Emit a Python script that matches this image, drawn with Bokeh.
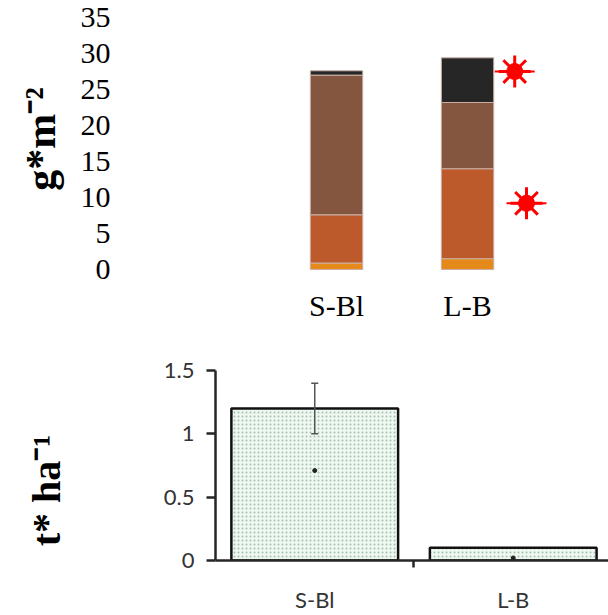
import numpy as np
from bokeh.plotting import figure
from bokeh.models import ColumnDataSource, Range1d, FixedTicker, Whisker, TeeHead
from bokeh.layouts import column
from bokeh.embed import file_html
from bokeh.resources import INLINE

# ---------------- data ----------------
categories = ["S-Bl", "L-B"]
# top chart: stacked components (g*m-2)
orange = [0.9, 1.5]
rust = [6.7, 12.5]
brown = [19.4, 9.2]
dark = [0.6, 6.2]
top_ticks = [0, 5, 10, 15, 20, 25, 30, 35]
# significance stars (on L-B): y values of the marked components
star_y = [27.5, 9.2]

# bottom chart (t* ha-1)
yield_vals = [1.2, 0.1]
err_lower = [1.0]
err_upper = [1.4]
point_vals = [0.71, 0.02]
bottom_ticks = [0, 0.5, 1, 1.5]
bottom_tick_labels = ["0", "0.5", "1", "1.5"]

SERIF = "Liberation Serif"
SANS = "Lato"

# ---------------- top chart ----------------
x1 = list(np.arange(1, len(categories) + 1))
src1 = ColumnDataSource(dict(x=x1, orange=orange, rust=rust, brown=brown, dark=dark))

p1 = figure(width=608, height=330, x_range=Range1d(-0.649, 3.076),
            y_range=Range1d(-0.417, 36.67), output_backend="svg",
            toolbar_location=None, min_border_left=120, min_border_right=0,
            min_border_top=5, min_border_bottom=58, frame_align=False)
p1.vbar_stack(["orange", "rust", "brown", "dark"], x="x", width=0.4, source=src1,
              fill_color=["#e58a1a", "#bd5a2b", "#845640", "#262626"],
              line_color="#c9b0a6", line_width=1)

sx = [x1[1] + 0.36, x1[1] + 0.45]
p1.scatter(sx, star_y, marker="dash", size=40, line_color="red", line_width=2)
p1.scatter(sx, star_y, marker="asterisk", size=32, line_color="red", line_width=3)
p1.scatter(sx, star_y, marker="circle", size=16, fill_color="red", line_color="red")

p1.xaxis.ticker = FixedTicker(ticks=x1)
p1.xaxis.major_label_overrides = {int(v): c for v, c in zip(x1, categories)}
p1.yaxis.ticker = FixedTicker(ticks=top_ticks)
for ax in (p1.xaxis, p1.yaxis):
    ax.axis_line_color = None
    ax.major_tick_line_color = None
    ax.minor_tick_line_color = None
    ax.major_label_text_font = SERIF
    ax.major_label_text_font_size = "30px"
    ax.major_label_text_color = "black"
p1.xaxis.major_label_standoff = 10
p1.yaxis.major_label_standoff = 4
p1.yaxis.axis_label = "g*m\u207b\u00b2"
p1.yaxis.axis_label_text_font = SERIF
p1.yaxis.axis_label_text_font_style = "bold"
p1.yaxis.axis_label_text_font_size = "42px"
p1.yaxis.axis_label_text_color = "black"
p1.yaxis.axis_label_standoff = 14
p1.xgrid.grid_line_color = None
p1.ygrid.grid_line_color = None
p1.outline_line_color = None

# ---------------- bottom chart ----------------
x2 = [i + 0.5 for i in range(len(categories))]
src2 = ColumnDataSource(dict(x=x2, top=yield_vals, pt=point_vals))

p2 = figure(width=608, height=285, x_range=Range1d(0, 1.98), y_range=Range1d(0, 1.5),
            output_backend="svg", toolbar_location=None, min_border_left=215,
            min_border_right=0, min_border_top=40, min_border_bottom=47,
            frame_align=False)
p2.vbar(x="x", top="top", width=0.84, source=src2, fill_color="#eef8f1",
        line_color="#111111", line_width=2.5, hatch_pattern="dot",
        hatch_color="#a3beae", hatch_scale=4, hatch_weight=1)
esrc = ColumnDataSource(dict(x=x2[:1], lower=err_lower, upper=err_upper))
p2.add_layout(Whisker(source=esrc, base="x", lower="lower", upper="upper",
                      level="overlay", line_color="#555555", line_width=1.5,
                      upper_head=TeeHead(size=7, line_color="#555555", line_width=1.5),
                      lower_head=TeeHead(size=7, line_color="#555555", line_width=1.5)))
p2.scatter(x="x", y="pt", source=src2, size=4, color="#222222")

p2.xaxis.ticker = FixedTicker(ticks=x2, minor_ticks=[1.0])
p2.xaxis.major_label_overrides = {v: c for v, c in zip(x2, categories)}
p2.xaxis.major_tick_line_color = None
p2.xaxis.minor_tick_line_color = "#262626"
p2.xaxis.minor_tick_line_width = 2.5
p2.xaxis.minor_tick_in = 0
p2.xaxis.minor_tick_out = 7
p2.xaxis.major_label_standoff = 18
p2.yaxis.ticker = FixedTicker(ticks=bottom_ticks)
p2.yaxis.major_label_overrides = {v: s for v, s in zip(bottom_ticks, bottom_tick_labels)}
p2.yaxis.major_tick_line_color = "#262626"
p2.yaxis.major_tick_line_width = 2.5
p2.yaxis.major_tick_in = 0
p2.yaxis.major_tick_out = 9
p2.yaxis.minor_tick_line_color = None
p2.yaxis.major_label_standoff = 12
for ax in (p2.xaxis, p2.yaxis):
    ax.axis_line_color = "#262626"
    ax.axis_line_width = 2.5
    ax.major_label_text_font = SANS
    ax.major_label_text_font_size = "22px"
    ax.major_label_text_color = "#333333"
p2.yaxis.axis_label = "t* ha\u207b\u00b9" + "\u00a0" * 5
p2.yaxis.axis_label_text_font = SERIF
p2.yaxis.axis_label_text_font_style = "bold"
p2.yaxis.axis_label_text_font_size = "40px"
p2.yaxis.axis_label_text_color = "black"
p2.yaxis.axis_label_standoff = 92
p2.xgrid.grid_line_color = None
p2.ygrid.grid_line_color = None
p2.outline_line_color = None

layout = column(p1, p2, spacing=0)
open("out.html", "w").write(file_html(layout, INLINE))
